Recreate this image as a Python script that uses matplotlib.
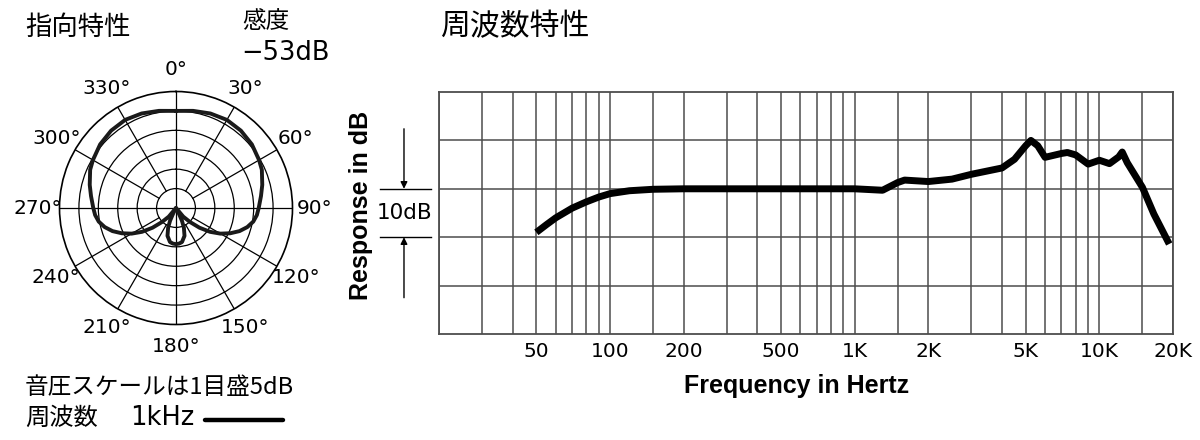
import matplotlib
matplotlib.use("Agg")
import matplotlib.pyplot as plt
import matplotlib.transforms as mtransforms
import numpy as np

plt.rcParams['font.family'] = ['Noto Sans CJK JP', 'DejaVu Sans']
LATIN = ['DejaVu Sans']
BOLD = ['Liberation Sans', 'DejaVu Sans']

# polar pattern (1 kHz), half pattern 0..180 deg, dB (front = 0, center = -25)
polar_deg = [0, 10, 20, 30, 40, 50, 60, 66, 75, 82, 90, 95, 100, 105, 110, 115, 120,
             125, 130, 135, 140, 144, 150, 152, 155, 158, 163, 170, 175, 180]
polar_db = [0.0, 0.4, 0.9, 1.2, 1.0, 0.5, -0.3, -0.8, -2.0, -2.9, -3.7, -4.1, -4.8,
            -6.0, -7.6, -9.6, -11.8, -14.3, -17.1, -19.9, -22.1, -25.0, -25.0, -23.7,
            -21.4, -19.6, -17.5, -16.1, -15.8, -15.7]
angle_labels = ['0°', '30°', '60°', '90°', '120°', '150°',
                '180°', '210°', '240°', '270°', '300°', '330°']

# frequency response
freq_hz = [50, 55, 60, 70, 80, 90, 100, 120, 150, 200, 500, 1000, 1300, 1500, 1600,
           2000, 2500, 3000, 4000, 4500, 5000, 5250, 5600, 6000, 7000, 7400, 8000,
           9000, 10000, 11000, 12000, 12400, 13000, 15000, 16700, 19300]
resp_db = [-9.0, -7.4, -6.0, -4.0, -2.7, -1.7, -1.0, -0.4, -0.1, 0.0, 0.0, 0.0, -0.3,
           1.3, 1.8, 1.5, 2.0, 3.0, 4.3, 6.1, 8.9, 10.0, 8.9, 6.5, 7.3, 7.5, 7.0,
           5.1, 5.9, 5.2, 6.6, 7.6, 5.4, 0.3, -5.2, -11.4]
tick_freqs = [50, 100, 200, 500, 1000, 2000, 5000, 10000, 20000]
tick_labels = ['50', '100', '200', '500', '1K', '2K', '5K', '10K', '20K']
grid_freqs = ([20, 30, 40, 50, 60, 70, 80, 90, 100, 150]
              + list(range(200, 1000, 100)) + [1000, 1500]
              + list(range(2000, 10000, 1000)) + [10000, 15000, 20000])

W, H = 1200, 440
fig = plt.figure(figsize=(12, 4.4), dpi=100)


def fx(px):
    return px / W


def fy(py):
    return 1 - py / H


# ---------------- polar plot ----------------
cx, cy, R = 176, 208, 116.5
pax = fig.add_axes([fx(cx - R), fy(cy + R), 2 * R / W, 2 * R / H], projection='polar')
pax.set_theta_zero_location('N')
pax.set_theta_direction(-1)
pax.set_rlim(-25, 5)
pax.set_rgrids([-20, -15, -10, -5, 0], labels=[])
pax.set_xticks([])
pax.xaxis.grid(False)
pax.yaxis.grid(True, color='black', lw=0.9)
pax.spines['polar'].set_linewidth(1.2)

for a in range(0, 360, 30):
    r0 = -25 if a % 90 == 0 else -20
    pax.plot([np.radians(a)] * 2, [r0, 5], color='black', lw=0.9)

for a, lab in zip(range(0, 360, 30), angle_labels):
    pax.text(np.radians(a), 10.6, lab, ha='center', va='center', fontsize=14.5,
             family=LATIN, clip_on=False)

th = np.radians(polar_deg + [360 - d for d in polar_deg[::-1]])
rr = polar_db + polar_db[::-1]
pax.plot(th, rr, color='#1a1a1a', lw=2.8, solid_joinstyle='round')

# ---------------- frequency response ----------------
x0, x1, y0, y1 = 439, 1173, 92, 334
ax = fig.add_axes([fx(x0), fy(y1), (x1 - x0) / W, (y1 - y0) / H])
ax.set_xscale('log')
ax.set_xlim(20, 20000)
ax.set_ylim(-30, 20)
ax.set_xticks(tick_freqs, tick_labels)
ax.set_xticks(grid_freqs, minor=True)
ax.set_xticklabels([], minor=True)
ax.set_yticks([-20, -10, 0, 10])
ax.set_yticklabels([])
ax.tick_params(which='both', length=0)
ax.tick_params(axis='x', pad=6, labelsize=14.5)
for lab in ax.get_xticklabels():
    lab.set_family(LATIN)
ax.grid(which='both', color='#4d4d4d', lw=1.1)
for s in ax.spines.values():
    s.set_color('#4d4d4d')
    s.set_linewidth(1.3)
ax.plot(freq_hz, resp_db, color='black', lw=5, solid_joinstyle='round',
        solid_capstyle='butt')

ax.set_xlabel('Frequency in Hertz', fontsize=18, fontweight='bold', family=BOLD)
ax.xaxis.set_label_coords(0.4877, -0.165)
ax.set_ylabel('Response in dB', fontsize=18, fontweight='bold', family=BOLD)
ax.yaxis.set_label_coords(-0.09, 0.533)

# 10 dB scale marker
trans = mtransforms.blended_transform_factory(ax.transAxes, ax.transData)
for yv in [0, -10]:
    ax.plot([-0.0804, -0.0109], [yv, yv], transform=trans, color='black', lw=1,
            clip_on=False)
ax.annotate('', xy=(-0.0477, 0), xycoords=trans, xytext=(-0.0477, 12.4),
            textcoords=trans,
            arrowprops=dict(arrowstyle='-|>', color='black', lw=1, mutation_scale=10,
                            shrinkA=0, shrinkB=0))
ax.annotate('', xy=(-0.0477, -10), xycoords=trans, xytext=(-0.0477, -22.5),
            textcoords=trans,
            arrowprops=dict(arrowstyle='-|>', color='black', lw=1, mutation_scale=10,
                            shrinkA=0, shrinkB=0))
ax.text(-0.047, -5, '10dB', transform=trans, ha='center', va='center', fontsize=15.5,
        family=LATIN)

# ---------------- texts ----------------
fig.text(fx(25), fy(27), '指向特性', fontsize=19, va='center', ha='left')
fig.text(fx(242), fy(22), '感度', fontsize=17, va='center', ha='left')
fig.text(fx(241), fy(53), '−53dB', fontsize=18.5, va='center', ha='left', family=LATIN)
fig.text(fx(440), fy(27), '周波数特性', fontsize=21.5, va='center', ha='left')
fig.text(fx(25), fy(387), '音圧スケールは1目盛5dB', fontsize=17, va='center', ha='left')
fig.text(fx(25), fy(418), '周波数', fontsize=17.5, va='center', ha='left')
fig.text(fx(130), fy(418), '1kHz', fontsize=18.5, va='center', ha='left', family=LATIN)
fig.add_artist(plt.Line2D([fx(205), fx(283)], [fy(420), fy(420)], color='black', lw=3.2,
                          solid_capstyle='round'))

fig.savefig('out.png', dpi=100)
